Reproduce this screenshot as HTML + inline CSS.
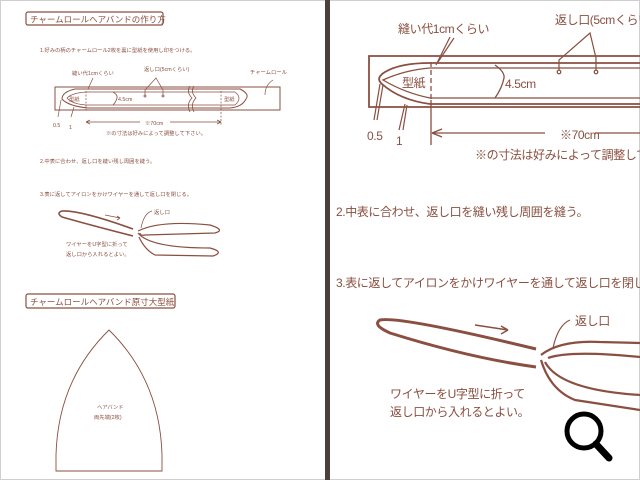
<!DOCTYPE html>
<html><head><meta charset="utf-8"><style>
html,body{margin:0;padding:0;background:#fff}
svg{display:block}
text{font-family:"Liberation Sans","Noto Sans CJK JP",sans-serif;fill:#8a4f40}
</style></head><body>
<svg width="640" height="480" viewBox="0 0 640 480" xmlns="http://www.w3.org/2000/svg">
<rect x="0.5" y="0.5" width="639" height="479" fill="#fff" stroke="#cfcfcf"/>
<rect x="325" y="0" width="5" height="480" fill="#4d3f3c"/>

<!-- LEFT PANEL -->
<g stroke="#8a4f40" fill="none">
<rect x="26" y="12" width="137" height="13" rx="2" stroke-width="1.2"/>
<rect x="26" y="294" width="149" height="14" rx="2" stroke-width="1.2"/>
<rect x="55" y="87" width="225" height="23" stroke-width="1"/>
<path d="M90,89 L240,89 Q250,94 246,99 Q242,107 230,108 L88,108 Q68,106 62,99 Q62,92 75,89 Z" stroke-width="1"/>
<path d="M86,92 L235,92 Q243,98 235,105 L86,105 Q72,104 67,98 Q72,93 86,92 Z" stroke-width="0.7"/>
<path d="M86,91 L86,110 M221,91 L221,126" stroke-dasharray="2,1.5" stroke-width="0.7"/>
<path d="M113,92 Q118,95 117,98 Q116,102 113,105" stroke-width="0.8"/>
<path d="M190,86 Q186,92 192,98 Q186,104 190,112 M194,86 Q190,92 196,98 Q190,104 194,112" stroke-width="0.8"/>
<circle cx="145" cy="96" r="1" stroke-width="0.8"/><circle cx="163" cy="96" r="1" stroke-width="0.8"/>
<path d="M145,95 L145,90 L156,78 L163,90 L163,95" stroke-width="0.7"/>
<path d="M88,89 L93,78 M265,95 Q265,85 273,80" stroke-width="0.7"/>
<path d="M61,100 L58,117 M74,107 L71,117" stroke-width="0.7"/>
<path d="M86,122 L140,122 M170,122 L221,122 M86,122 l4,-2 M86,122 l4,2 M221,122 l-4,-2 M221,122 l-4,2" stroke-width="0.7"/>
<path d="M133,236 Q90,225 62,217 Q56,213 62,211 Q80,210 133,229" stroke-width="1.6"/>
<path d="M105,215 L120,218 l-3,-2 M120,218 l-3,2" stroke-width="0.8"/>
<path d="M138,231 Q160,220 210,225 Q226,230 215,233 L145,235 Q140,236 140,233" stroke-width="1.2"/>
<path d="M138,233 Q150,248 210,248 Q225,252 213,256 L155,255 Q145,250 139,237" stroke-width="1.2"/>
<path d="M141,228 Q144,213 152,211" stroke-width="0.7"/>
<path d="M56,471 L56,455 Q58,380 109,330 Q160,380 162,455 L162,471 Z" stroke-width="0.9"/>
</g>
<g font-size="8.5"><text x="30" y="22.5">チャームロールヘアバンドの作り方</text>
<text x="30" y="305">チャームロールヘアバンド原寸大型紙</text></g>
<g font-size="5.3">
<text x="40" y="52">1.好みの柄のチャームロール2枚を裏に型紙を使用し印をつける。</text>
<text x="72" y="75">縫い代1cmくらい</text>
<text x="144" y="71">返し口(5cmくらい)</text>
<text x="250" y="74">チャームロール</text>
<text x="69" y="101">型紙</text><text x="224" y="101">型紙</text>
<text x="118" y="101">4.5cm</text>
<text x="53" y="127">0.5</text><text x="69" y="129">1</text>
<text x="145" y="125">※70cm</text>
<text x="106" y="135">※の寸法は好みによって調整して下さい。</text>
<text x="40" y="163">2.中表に合わせ、返し口を縫い残し周囲を縫う。</text>
<text x="40" y="196">3.表に返してアイロンをかけワイヤーを通して返し口を閉じる。</text>
<text x="154" y="214">返し口</text>
<text x="66" y="246">ワイヤーをU字型に折って</text>
<text x="66" y="256">返し口から入れるとよい。</text>
<text x="97" y="409">ヘアバンド</text>
<text x="94" y="419">両先端(2枚)</text>
</g>

<!-- RIGHT PANEL -->
<g stroke="#8a4f40" fill="none">
<path d="M640,56 L369,56 L369,107 L640,107" stroke-width="1.8"/>
<path d="M640,63 L430,63 Q400,63 385,72 Q375,78 382,84 Q400,100 430,104 L640,104" stroke-width="1.8"/>
<path d="M640,68 L430,68 Q405,70 383,80 Q405,93 430,98 L640,98" stroke-width="1.3"/>
<path d="M431,62 L431,100" stroke-dasharray="5,3" stroke-width="1.3"/>
<path d="M431,100 L431,145" stroke-width="1.3"/>
<path d="M495,65 Q505,72 504,78 Q502,88 495,98" stroke-width="1.3"/>
<path d="M559,70 L559,60 L590,33 L596,58 L596,70" stroke-width="1.2"/>
<circle cx="559" cy="72" r="1.8" stroke-width="1.2"/><circle cx="596" cy="72" r="1.8" stroke-width="1.2"/>
<path d="M436,65 L450,37 M438,62 L454,38" stroke-width="1.2"/>
<path d="M380,84 L374,120 M383,85 L377,120 M405,104 L399,130 M407,105 L403,130" stroke-width="1.2"/>
<path d="M432,133 L545,133 M432,133 l10,-4 M432,133 l10,4 M595,133 L640,133" stroke-width="1.3"/>
<path d="M536,367 Q470,358 390,333 Q372,325 380,320 Q400,316 536,349" stroke-width="3"/>
<path d="M475,325 L508,330 l-7,-4 M508,330 l-7,4" stroke-width="1.5"/>
<path d="M541,355 Q560,340 600,342 L640,343 M548,358 Q570,350 640,357" stroke-width="2.2"/>
<path d="M541,360 Q550,390 575,400 L640,410 M545,362 Q560,390 640,395" stroke-width="2.2"/>
<path d="M553,348 Q558,325 570,320" stroke-width="1.2"/>
</g>
<g font-size="12" letter-spacing="-0.4">
<text x="398" y="33">縫い代1cmくらい</text>
<text x="555" y="24">返し口(5cmくらい)</text>
<text x="402" y="87">型紙</text>
<text x="505" y="88">4.5cm</text>
<text x="367" y="140">0.5</text><text x="396" y="145">1</text>
<text x="560" y="139">※70cm</text>
<text x="475" y="159">※の寸法は好みによって調整して下さい。</text>
<text x="336" y="216">2.中表に合わせ、返し口を縫い残し周囲を縫う。</text>
<text x="336" y="287">3.表に返してアイロンをかけワイヤーを通して返し口を閉じる。</text>
<text x="575" y="325">返し口</text>
<text x="390" y="398">ワイヤーをU字型に折って</text>
<text x="390" y="416">返し口から入れるとよい。</text>
</g>
<circle cx="584" cy="431" r="17" fill="none" stroke="#000" stroke-width="5"/>
<path d="M596,444 L609,458" stroke="#000" stroke-width="7" stroke-linecap="round"/>
</svg>
</body></html>
